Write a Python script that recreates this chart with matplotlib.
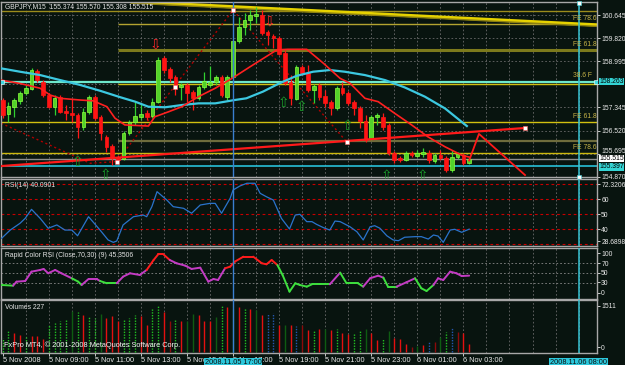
import matplotlib
matplotlib.use("Agg")
import matplotlib.pyplot as plt
import matplotlib.transforms as mtrans
from matplotlib.patches import Rectangle

# ---------------- data ----------------
symbol_text = "GBPJPY,M15  155.374 155.570 155.308 155.515"

opens = [157.61, 157.11, 157.36, 157.57, 157.86, 158.00, 158.65, 158.25, 157.79, 157.36,
         157.72, 157.22, 157.15, 157.08, 156.65, 157.18, 157.72, 157.00, 156.29, 155.97,
         155.57, 155.50, 156.43, 156.82, 157.00, 157.15, 157.04, 157.54, 159.11, 158.72,
         158.43, 158.07, 158.15, 157.90, 157.68, 158.07, 158.15, 158.25, 158.43, 157.72,
         158.43, 159.72, 160.22, 160.47, 160.61, 160.65, 160.04, 159.90, 159.82, 159.29,
         158.25, 157.65, 158.79, 158.57, 157.97, 158.15, 157.75, 157.54, 157.33, 158.04,
         157.86, 157.54, 157.33, 156.86, 156.22, 157.00, 157.00, 156.72, 155.72, 155.54,
         155.47, 155.72, 155.61, 155.68, 155.72, 155.43, 155.65, 155.54, 155.11, 155.57,
         155.65, 155.374]
highs = [157.68, 157.54, 157.68, 157.93, 158.15, 158.75, 158.72, 158.32, 157.86, 157.79,
         157.79, 157.43, 157.65, 157.15, 157.33, 157.79, 157.79, 157.08, 156.36, 156.04,
         155.65, 156.50, 156.90, 157.54, 157.47, 157.25, 157.68, 159.15, 159.18, 158.79,
         158.50, 158.22, 158.22, 157.97, 158.15, 158.61, 158.82, 158.50, 158.50, 158.50,
         159.75, 160.57, 160.72, 160.82, 160.93, 160.82, 160.11, 159.97, 159.90, 159.40,
         158.50, 158.86, 158.86, 158.86, 158.18, 158.22, 157.97, 157.61, 158.11, 158.25,
         157.93, 157.61, 157.40, 157.07, 157.07, 157.15, 157.15, 156.79, 155.79, 155.61,
         155.79, 155.79, 155.82, 155.90, 155.82, 155.72, 155.82, 155.61, 155.82, 155.75,
         155.72, 155.570]
lows = [156.97, 156.82, 157.00, 157.47, 157.79, 157.97, 158.25, 157.72, 157.33, 157.08,
        157.15, 156.90, 156.82, 156.25, 156.54, 157.11, 156.90, 156.18, 155.75, 155.29,
        155.36, 155.47, 156.36, 156.72, 156.90, 156.90, 156.97, 157.50, 158.57, 158.25,
        157.79, 157.61, 157.54, 157.25, 157.61, 158.00, 158.07, 158.15, 157.72, 157.61,
        158.40, 159.65, 159.93, 160.11, 160.36, 159.93, 159.57, 159.47, 159.22, 158.15,
        157.43, 157.61, 158.50, 157.90, 157.50, 157.61, 157.36, 157.07, 157.25, 157.79,
        157.43, 157.07, 156.61, 156.11, 156.18, 156.72, 156.54, 155.65, 155.36, 155.40,
        155.43, 155.57, 155.57, 155.57, 155.36, 155.36, 155.47, 155.04, 155.04, 155.50,
        155.29, 155.308]
closes = [157.08, 157.40, 157.61, 157.86, 158.04, 158.68, 158.32, 157.79, 157.36, 157.68,
          157.18, 157.15, 157.08, 156.65, 157.18, 157.72, 156.97, 156.43, 155.93, 155.54,
          155.47, 156.43, 156.82, 157.04, 157.11, 157.00, 157.54, 159.04, 158.68, 158.40,
          158.04, 158.15, 157.86, 157.68, 158.07, 158.29, 158.25, 158.43, 157.79, 158.43,
          159.72, 160.22, 160.47, 160.65, 160.68, 160.00, 159.93, 159.82, 159.25, 158.22,
          157.68, 158.79, 158.57, 157.97, 158.11, 157.72, 157.50, 157.33, 158.04, 157.86,
          157.50, 157.33, 156.86, 156.18, 157.00, 157.07, 156.65, 155.72, 155.47, 155.47,
          155.72, 155.65, 155.72, 155.75, 155.47, 155.65, 155.54, 155.11, 155.57, 155.68,
          155.36, 155.515]

# moving averages (bar position, price)
ma_red_bar = [-0.3, 3.0, 6.5, 8.2, 10.0, 13.4, 15.7, 18.1, 19.5, 21.2, 25.3, 26.4, 28.8, 31.1,
              34.0, 36.9, 39.8, 42.9, 47.6, 49.5, 52.8, 55.7, 58.6, 60.3, 62.9, 65.2, 68.1,
              71.0, 73.8, 76.8, 79.7, 81.0]
ma_red_val = [158.32, 158.20, 158.03, 157.79, 157.67, 157.61, 157.58, 157.37, 156.96, 156.72,
              156.68, 157.01, 157.19, 157.37, 157.73, 158.03, 158.38, 158.79, 159.40, 159.42,
              159.42, 158.92, 158.38, 158.21, 157.67, 157.55, 157.13, 156.72, 156.30, 155.94,
              155.64, 155.57]
ma_cyan_bar = [-0.3, 3.0, 6.5, 10.0, 13.4, 16.9, 20.4, 23.0, 25.3, 28.2, 31.1, 34.0, 36.9,
               40.3, 42.3, 45.2, 48.1, 51.0, 53.9, 56.8, 59.4, 62.9, 66.4, 69.8, 73.3, 76.8, 80.6]
ma_cyan_val = [158.74, 158.62, 158.50, 158.32, 158.15, 157.94, 157.71, 157.55, 157.37, 157.35,
               157.43, 157.49, 157.49, 157.61, 157.67, 157.91, 158.21, 158.47, 158.62, 158.68,
               158.62, 158.50, 158.32, 158.06, 157.73, 157.31, 156.68]

# horizontal levels
full_levels = [160.79, 158.263, 156.81, 155.73, 155.515, 155.237]
full_level_colors = ['#9c8c1c', '#6ee8cc', '#d2c010', '#cdb80e', '#8e8e8e', '#28c0d8']
full_level_widths = [1.0, 1.6, 1.0, 1.0, 1.0, 1.2]
fe_start_bar = 20
fe_levels = [160.31, 159.41, 158.18, 156.13]
fe_level_colors = ['#b4a430', '#7c7a1c', '#d2c010', '#6e6c3c']
fe_level_widths = [1.0, 2.2, 1.0, 1.6]
fe_labels = ['FE 78.6', 'FE 61.8', '38.6 F', 'FE 61.8', 'FE 78.6']
fe_label_prices = [160.31, 159.41, 158.30, 156.81, 155.73]

# trend lines
yellow_bar = [22.4, 103.2]
yellow_val = [161.12, 160.29]
trend_bar = [-0.3, 90.7]
trend_val = [155.25, 156.61]
proj_bar = [81.0, 82.7, 90.7]
proj_val = [155.45, 156.40, 154.93]
zig_bar = [-0.3, 15.2, 19.8, 40.0, 59.7]
zig_val = [156.78, 155.35, 155.41, 160.82, 156.12]
dot_bar = [19.8, 29.9, 40.0, 59.7, 90.7]
dot_val = [155.41, 158.07, 160.81, 156.12, 156.61]
down_arrow_bar = [26.6, 46.4]
down_arrow_val = [159.61, 160.40]
up_arrow_bar = [12.9, 17.9, 48.7, 51.8, 59.8, 66.7, 72.8]
up_arrow_val = [155.40, 154.93, 157.51, 157.36, 156.68, 154.90, 154.90]

# RSI(14)
rsi_bar = [-0.2, 1.3, 3.0, 3.9, 5.0, 6.5, 7.9, 9.4, 10.8, 12.0, 13.0, 14.9, 16.9, 18.3, 19.2,
           19.8, 20.9, 22.7, 24.4, 25.0, 25.9, 26.8, 28.5, 29.6, 31.4, 32.8, 34.3, 36.0, 36.9,
           38.0, 39.5, 40.0, 41.2, 42.4, 43.8, 44.7, 45.8, 47.0, 48.4, 49.8, 50.8, 51.6, 52.8,
           53.7, 54.5, 55.7, 56.8, 57.7, 58.6, 60.3, 61.5, 62.6, 63.8, 64.6, 65.5, 66.7, 67.8,
           68.7, 69.8, 71.6, 72.7, 73.9, 74.8, 75.6, 76.5, 77.7, 78.5, 79.7, 81.0]
rsi_val = [34.0, 39.5, 44.0, 47.3, 53.3, 47.3, 40.7, 42.9, 39.5, 39.5, 35.7, 48.4, 39.5, 32.9,
           31.3, 32.2, 42.9, 48.4, 49.5, 48.4, 55.1, 65.1, 59.5, 55.1, 54.0, 50.7, 56.2, 57.3,
           57.3, 50.7, 60.7, 66.2, 68.9, 70.7, 70.7, 64.0, 61.7, 59.5, 47.3, 40.2, 49.5, 50.0,
           45.1, 45.1, 43.3, 41.1, 39.5, 45.5, 45.1, 41.7, 38.4, 32.9, 41.7, 42.4, 40.7, 35.7,
           32.9, 32.4, 34.7, 35.1, 35.1, 33.5, 36.2, 35.5, 31.3, 39.5, 40.0, 38.0, 40.09]
rsi_levels = [70, 60, 50, 40, 30]

# Rapid Color RSI (value, colour of the segment that starts at the point)
rc_bar = [-0.2, 1.8, 2.4, 3.9, 5.0, 6.5, 7.1, 7.9, 9.1, 10.2, 12.0, 13.1, 13.7, 14.9, 16.3,
          16.9, 18.1, 19.8, 20.9, 22.1, 23.8, 25.0, 26.2, 27.0, 27.9, 29.0, 30.2, 31.7, 32.8,
          34.3, 35.7, 36.6, 37.4, 38.6, 39.5, 40.3, 41.8, 43.5, 45.0, 45.8, 46.7, 47.7, 48.6,
          49.8, 50.8, 51.6, 52.8, 53.7, 55.1, 56.8, 58.6, 59.7, 61.7, 62.6, 63.8, 65.2, 66.1,
          66.9, 68.4, 70.1, 71.6, 72.7, 73.6, 74.8, 75.6, 76.5, 77.7, 78.8, 79.7, 81.0]
rc_val = [26.6, 25.3, 33.3, 34.6, 53.3, 56.7, 58.7, 50.0, 56.7, 50.0, 40.0, 33.3, 26.6, 38.6,
          38.6, 34.6, 30.0, 30.0, 43.3, 50.0, 46.6, 56.7, 76.6, 88.0, 88.0, 76.6, 70.0, 65.3,
          58.7, 61.3, 33.3, 38.6, 36.6, 60.0, 63.3, 73.3, 83.3, 83.3, 70.0, 68.0, 76.6, 66.6,
          46.6, 13.3, 30.0, 26.6, 23.3, 28.0, 28.0, 28.0, 51.3, 30.0, 30.0, 23.3, 40.0, 45.3,
          41.3, 23.3, 23.3, 32.0, 40.0, 20.0, 14.6, 26.6, 40.0, 36.6, 53.3, 50.0, 44.6, 45.35]
rc_col = ['g', 'm', 'm', 'm', 'm', 'm', 'm', 'm', 'm', 'm', 'g', 'g', 'm', 'm', 'm',
          'g', 'g', 'm', 'm', 'm', 'm', 'r', 'r', 'r', 'r', 'm', 'm', 'm', 'm', 'm',
          'm', 'm', 'm', 'r', 'r', 'r', 'r', 'r', 'r', 'r', 'r', 'g', 'g', 'g', 'g',
          'g', 'g', 'g', 'g', 'm', 'g', 'g', 'g', 'm', 'm', 'm', 'g', 'g', 'm', 'm',
          'g', 'g', 'g', 'm', 'm', 'm', 'm', 'm', 'm', 'm']
rc_levels = [70, 50, 30]

# Volumes
volumes = [407, 620, 552, 485, 430, 475, 455, 378, 795, 843, 891, 940, 1182, 1162, 1085, 1036,
           988, 1104, 988, 1036, 891, 940, 988, 1085, 1036, 795, 1269, 1366, 1162, 910, 969, 891,
           891, 1104, 1085, 910, 910, 1008, 1327, 1308, 1250, 1298, 1279, 1250, 1230, 1066, 1104,
           1133, 775, 795, 775, 746, 775, 649, 620, 668, 678, 649, 678, 552, 523, 523, 620, 668,
           552, 358, 387, 600, 407, 387, 232, 136, 165, 194, 310, 290, 426, 571, 697, 571, 542, 227]
vol_col = "ggrrgrrrggggdgrggdrrrgggrrggrRgrddrrrdgrdrgrdrbbrdrbRrgrdrgrrggdrrgdrrrRdrbRdgbRrr"

time_bars = [0, 8, 16, 24, 32, 40, 48, 56, 64, 72, 80]
time_labels = ['5 Nov 2008', '5 Nov 09:00', '5 Nov 11:00', '5 Nov 13:00', '5 Nov 15:00',
               '5 Nov 17:00', '5 Nov 19:00', '5 Nov 21:00', '5 Nov 23:00', '6 Nov 01:00',
               '6 Nov 03:00']
price_ticks = [160.645, 159.820, 158.995, 158.170, 157.345, 156.520, 155.695, 154.870]
hidden_price_tick = 158.170
cursor_bar = 40
future_bar = 100

# ---------------- styling ----------------
W, H = 625, 365
BG = '#08140f'
GRID = '#6a6a6a'
FS = 5.3      # bottom time labels
FSR = 4.85    # right-hand scale labels
FST = 4.9     # in-panel captions
FONT = ['Liberation Sans', 'DejaVu Sans']
plt.rcParams['font.family'] = FONT

fig = plt.figure(figsize=(W / 100, H / 100), dpi=100)
fig.patch.set_facecolor(BG)


def add_px_axes(top, bottom, left=1, right=597):
    ax = fig.add_axes([left / W, 1 - bottom / H, (right - left) / W, (bottom - top) / H])
    ax.set_facecolor(BG)
    ax.set_xlim(-0.3, 103.2)
    for s in ax.spines.values():
        s.set_color('#a8a8a8')
        s.set_linewidth(1.0)
    ax.yaxis.tick_right()
    ax.tick_params(axis='y', colors='#e8e8e8', labelsize=FSR, length=2, width=0.6, pad=1.0)
    ax.set_xticks([])
    for b in range(4, 101, 4):
        ax.axvline(b, color=GRID, lw=0.6, ls=(0, (2, 2.5)), zorder=0)
    ax.axvline(cursor_bar, color='#3a7fd0', lw=1.0, zorder=6)
    ax.axvline(future_bar, color='#38c4d4', lw=1.1, zorder=6)
    return ax


ax = add_px_axes(2, 177.5)
ax_rsi = add_px_axes(178.5, 246)
ax_rc = add_px_axes(248, 298.5)
ax_vol = add_px_axes(300, 352.5)

# ---- main price panel ----
ax.set_ylim(154.842, 161.110)
ax.set_yticks(price_ticks)
ax.set_yticklabels(['' if v == hidden_price_tick else f"{v:.3f}" for v in price_ticks])
# the 155.695 label sits a little higher in the reference, just clear of the price box
for tick in ax.yaxis.get_major_ticks():
    if abs(tick.get_loc() - 155.695) < 1e-6:
        tick.label2.set_transform(tick.label2.get_transform() +
                                  mtrans.ScaledTranslation(0, 2.2 / 72, fig.dpi_scale_trans))
for v in price_ticks:
    ax.axhline(v, color=GRID, lw=0.6, ls=(0, (2, 2.5)), zorder=0)

for lv, c, w in zip(full_levels, full_level_colors, full_level_widths):
    ax.axhline(lv, color=c, lw=w, zorder=1)
for lv, c, w in zip(fe_levels, fe_level_colors, fe_level_widths):
    ax.plot([fe_start_bar, 103.2], [lv, lv], color=c, lw=w, zorder=1, solid_capstyle='butt')
for t, lv in zip(fe_labels, fe_label_prices):
    ax.annotate(t, xy=(99.0, lv), xytext=(0, 1.5), textcoords='offset points',
                color='#c8b448', fontsize=FST, va='bottom', ha='left', zorder=7)

ax.plot(yellow_bar, yellow_val, color='#e6d200', lw=2.4, zorder=2)
ax.plot(yellow_bar, [v - 0.05 for v in yellow_val], color='#8c8010', lw=1.0, zorder=2)

ax.plot(zig_bar, zig_val, color='#b00000', lw=1.0, ls=(0, (1.5, 2)), zorder=2)

for i, (o, h, l, c) in enumerate(zip(opens, highs, lows, closes)):
    up = c >= o
    wick = '#30d030' if up else '#ff1818'
    face = '#52d22a' if up else '#ff1414'
    edge = '#8cff3c' if up else '#ff1414'
    ax.vlines(i, l, h, color=wick, lw=0.9, zorder=3)
    ax.add_patch(Rectangle((i - 0.32, min(o, c)), 0.64, max(abs(c - o), 0.025),
                           facecolor=face, edgecolor=edge, lw=0.5, zorder=4))

ax.plot(ma_cyan_bar, ma_cyan_val, color='#3cc8e0', lw=1.6, zorder=5)
ax.plot(ma_red_bar, ma_red_val, color='#ff2020', lw=1.2, zorder=5)
ax.plot(trend_bar, trend_val, color='#ff1a1a', lw=1.6, zorder=5)
ax.plot(proj_bar, proj_val, color='#ff1a1a', lw=1.3, zorder=5)
ax.plot(dot_bar, dot_val, ls='none', marker='s', ms=2.6, mfc='white', mec='#ff6060',
        mew=0.4, zorder=8)

for b, v in zip(down_arrow_bar, down_arrow_val):
    ax.text(b, v, '\u21e9', color='#ff2828', fontsize=10, ha='center', va='center',
            family='DejaVu Sans', zorder=8)
for b, v in zip(up_arrow_bar, up_arrow_val):
    ax.text(b, v, '\u21e7', color='#1aa02a', fontsize=10, ha='center', va='center',
            family='DejaVu Sans', zorder=8)

ax.plot([-0.2, 103.0], [158.263, 158.263], ls='none', marker='s', ms=2.5,
        mfc='#40d8e0', mec='white', mew=0.4, zorder=8)
ax.plot([future_bar, future_bar], [161.08, 154.87], ls='none', marker='s', ms=2.5,
        mfc='white', mec='#40d8e0', mew=0.4, zorder=8, clip_on=False)

ax.text(0.007, 1 - 5 / 175.5, symbol_text, transform=ax.transAxes, color='#e4e4e4',
        fontsize=FST, va='center', ha='left', zorder=9)

bt = mtrans.blended_transform_factory(ax.transAxes, ax.transData)
for val, fc, label in [(158.263, '#34d4d4', '158.263'), (155.525, '#ffffff', '155.515'),
                       (155.225, '#34d4d4', '155.397')]:
    ax.text(1.004, val, label, transform=bt, color='black', fontsize=FSR, va='center',
            ha='left', clip_on=False, zorder=10,
            bbox=dict(facecolor=fc, edgecolor='none', pad=0.2))

# ---- RSI panel ----
ax_rsi.set_ylim(28.87, 73.87)
ax_rsi.set_yticks([70.2, 60, 50, 40, 32.2])
ax_rsi.set_yticklabels(['72.3206', '60', '50', '40', '28.6898'])
for lv in rsi_levels:
    ax_rsi.axhline(lv, color='#c80000', lw=0.8, ls=(0, (2.5, 2.5)), zorder=1)
ax_rsi.plot(rsi_bar, rsi_val, color='#2a74cc', lw=0.9, zorder=4)
ax_rsi.text(0.007, 0.9, 'RSI(14) 40.0901', transform=ax_rsi.transAxes, color='#e4e4e4',
            fontsize=FST, va='center', ha='left')

# ---- Rapid Color RSI panel ----
ax_rc.set_ylim(-0.4, 100.6)
ax_rc.set_yticks([90, 70, 51, 32, 11])
ax_rc.set_yticklabels(['100', '70', '50', '30', '0'])
for lv in rc_levels:
    ax_rc.axhline(lv, color='#8a8a8a', lw=0.6, ls=(0, (2, 2.5)), zorder=1)
rc_colors = {'g': '#3ee03e', 'm': '#c43cc4', 'r': '#ff1c1c'}
for k in range(len(rc_bar) - 1):
    ax_rc.plot(rc_bar[k:k + 2], rc_val[k:k + 2], color=rc_colors[rc_col[k]], lw=1.4,
               solid_capstyle='round', zorder=4)
ax_rc.text(0.007, 0.86, 'Rapid Color RSI (Close,70,30) (9) 45.3506', transform=ax_rc.transAxes,
           color='#e4e4e4', fontsize=FST, va='center', ha='left')

# ---- Volumes panel ----
ax_vol.set_ylim(-14.5, 1511)
ax_vol.set_yticks([1337, 145])
ax_vol.set_yticklabels(['1511', '0'])
vcolors = {'g': '#22c022', 'd': '#0e5c12', 'r': '#e41010', 'R': '#8c0a0a', 'b': '#2458b0'}
for i, (v, c) in enumerate(zip(volumes, vol_col)):
    ls = (0, (1, 1)) if c in 'gb' else '-'
    ax_vol.vlines(i, 0, v, color=vcolors[c], lw=1.0, linestyles=[ls], zorder=3)
ax_vol.text(0.007, 0.86, 'Volumes 227', transform=ax_vol.transAxes, color='#e4e4e4',
            fontsize=FST, va='center', ha='left')
ax_vol.text(0.005, 0.14, 'FxPro MT4, \u00a9 2001-2008 MetaQuotes Software Corp.',
            transform=ax_vol.transAxes, color='#f4f4f4', fontsize=5.3, va='center', ha='left',
            zorder=9)

ax_vol.set_xticks(time_bars)
ax_vol.set_xticklabels(time_labels, ha='left')
ax_vol.tick_params(axis='x', colors='#e8e8e8', labelsize=FS, length=2, width=0.6, pad=1.2)

tb = mtrans.blended_transform_factory(ax_vol.transData, ax_vol.transAxes)
for b, t in [(cursor_bar, '2008.11.05 17:00'), (future_bar, '2008.11.06 08:00')]:
    ax_vol.text(b, -0.115, t, transform=tb, color='#101010', fontsize=FS, ha='center',
                va='top', clip_on=False, zorder=10,
                bbox=dict(facecolor='#2cc8dc', edgecolor='none', pad=0.7))

fig.savefig('out.png', dpi=100, facecolor=BG)
